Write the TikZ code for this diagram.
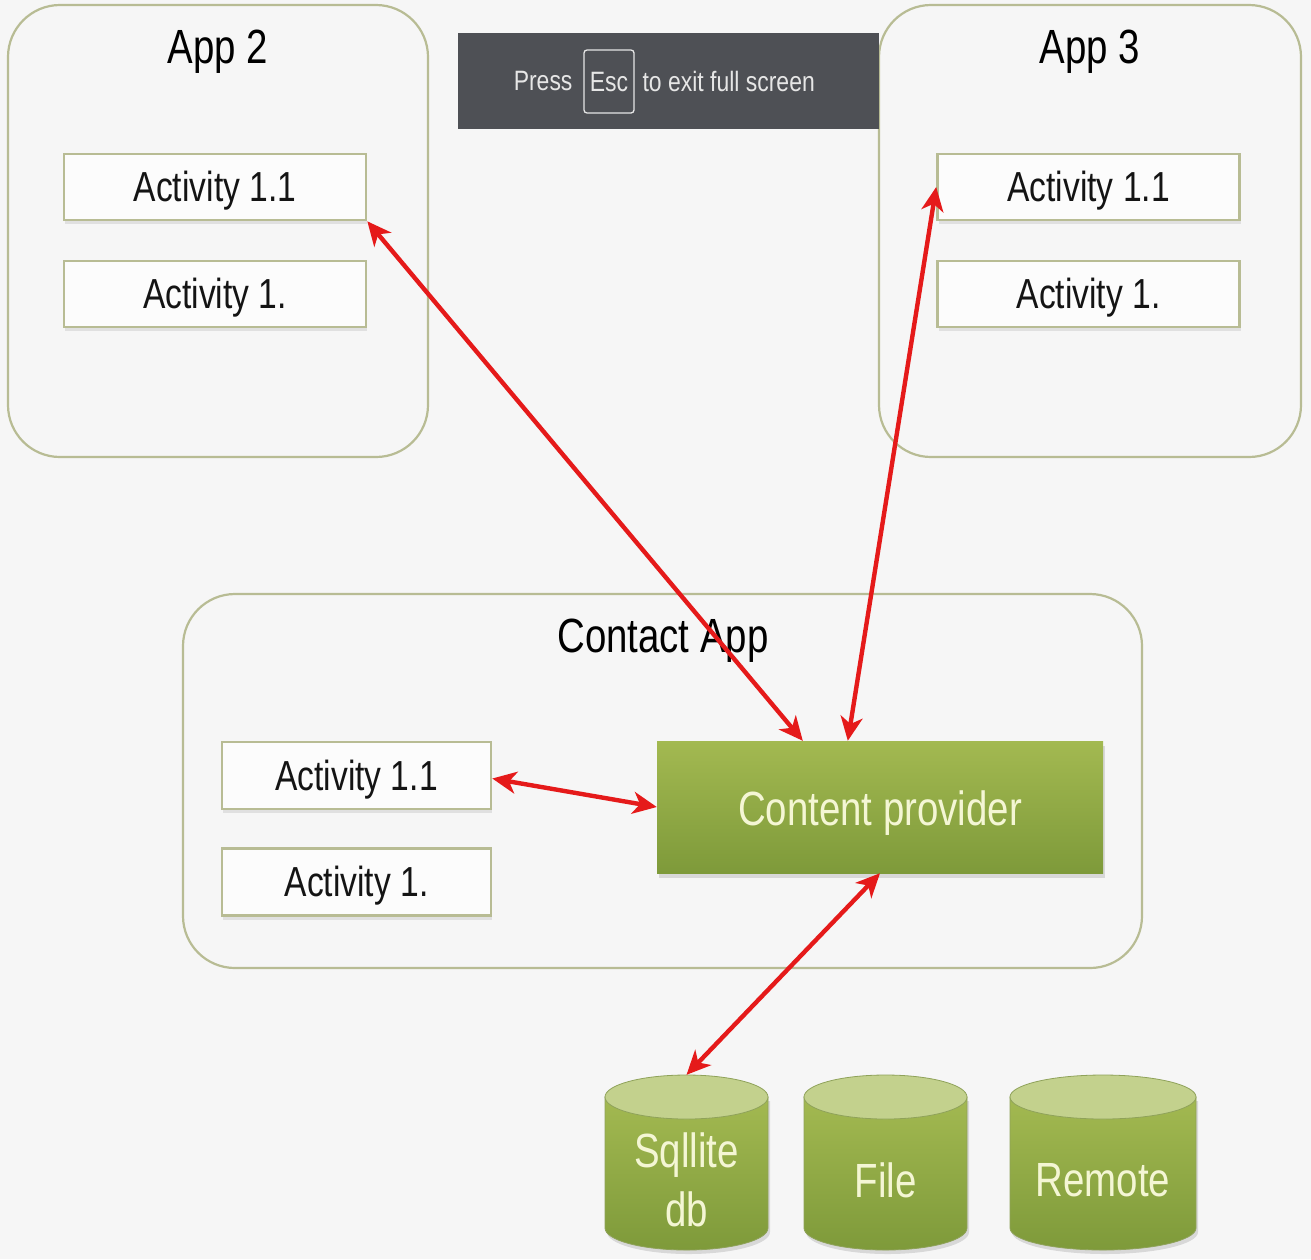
\documentclass[tikz,border=0pt]{standalone}
\usepackage{fontspec}
\setmainfont{Liberation Sans}[FakeStretch=0.8]
\newfontfamily\bannerfont{Liberation Sans}[FakeStretch=0.82]
\usetikzlibrary{arrows.meta,shadows,calc}

\definecolor{bgcol}{HTML}{F6F6F6}
\definecolor{framecol}{HTML}{B8BC94}
\definecolor{bannercol}{HTML}{4E5055}
\definecolor{bannertext}{HTML}{E6E6E6}
\definecolor{greentop}{HTML}{A3B951}
\definecolor{greenbot}{HTML}{7E9A3A}
\definecolor{greencap}{HTML}{C3D18D}
\definecolor{greenedge}{HTML}{8FA25A}
\definecolor{paletext}{HTML}{F4F6D4}
\definecolor{linkred}{HTML}{E51A1A}

\tikzset{
  appframe/.style={draw=framecol, line width=2.2pt, rounded corners=52pt},
  apptitle/.style={font=\fontsize{48}{52}\selectfont, text=black},
  actbox/.style={draw=framecol, line width=2.6pt, fill=white!70!bgcol,
    minimum width=302pt, minimum height=66pt, inner sep=0pt,
    drop shadow={shadow xshift=1pt, shadow yshift=-4pt, opacity=0.18}},
  acttext/.style={font=\fontsize{42}{46}\selectfont, text=black!92},
  provider/.style={top color=greentop, bottom color=greenbot, draw=none,
    minimum width=446pt, minimum height=132pt, inner sep=0pt,
    drop shadow={shadow xshift=2pt, shadow yshift=-5pt, opacity=0.25}},
  providertext/.style={text=paletext, font=\fontsize{48}{52}\selectfont},
  dbtext/.style={text=paletext, font=\fontsize{48}{59}\selectfont, align=center},
  dbbody/.style={top color=greentop, bottom color=greenbot, draw=greenedge, line width=0.8pt},
  dbcap/.style={fill=greencap, draw=greenedge, line width=0.8pt},
  link/.style={draw=linkred, line width=4.4pt,
    {Stealth[length=24pt, width=22pt, inset=7pt]}-{Stealth[length=24pt, width=22pt, inset=7pt]}},
}

\begin{document}
\begin{tikzpicture}[x=1pt, y=1pt]
  % canvas
  \fill[bgcol] (0,0) rectangle (1311,-1259);
  \useasboundingbox (0,0) rectangle (1311,-1259);

  % ---- App 2 ----
  \draw[appframe] (8,-5) rectangle (428,-457);
  \node[apptitle] (app2) at (218,-52) {App 2};
  \node[actbox] (a2one) at (215,-187) {};
  \node[actbox] (a2two) at (215,-294) {};
  \node[acttext] (a2onet) at (215,-191) {Activity 1.1};
  \node[acttext] (a2twot) at (215,-298) {Activity 1.};

  % ---- App 3 ----
  \draw[appframe] (879,-5) rectangle (1301,-457);
  \node[apptitle] (app3) at (1090,-52) {App 3};
  \node[actbox] (a3one) at (1088.5,-187) {};
  \node[actbox] (a3two) at (1088.5,-294) {};
  \node[acttext] (a3onet) at (1088.5,-191) {Activity 1.1};
  \node[acttext] (a3twot) at (1088.5,-298) {Activity 1.};

  % ---- full screen banner ----
  \node[fill=bannercol, minimum width=421pt, minimum height=96pt, inner sep=0pt]
    (banner) at (668.5,-81) {};
  \node[text=bannertext, font=\bannerfont\fontsize{28}{30}\selectfont, anchor=east]
    (press) at (576,-81) {Press};
  \node[draw=bannertext, line width=1.3pt, rounded corners=3pt,
        minimum width=50pt, minimum height=63pt, inner sep=0pt,
        text=bannertext, font=\bannerfont\fontsize{28}{30}\selectfont]
    (esc) at (609,-81.5) {Esc};
  \node[text=bannertext, font=\bannerfont\fontsize{28}{30}\selectfont, anchor=west]
    (exit) at (639,-81) {to exit full screen};

  % ---- Contact App ----
  \draw[appframe] (183,-594) rectangle (1142,-968);
  \node[apptitle] (capp) at (663,-641) {Contact App};
  \node[actbox, minimum width=269pt, minimum height=67pt] (cone) at (356.5,-775.5) {};
  \node[actbox, minimum width=269pt, minimum height=67pt] (ctwo) at (356.5,-882) {};
  \node[acttext] (conet) at (356.5,-780) {Activity 1.1};
  \node[acttext] (ctwot) at (356.5,-886) {Activity 1.};
  \node[provider] (cp) at (880,-807) {};
  \node[providertext] (cpt) at (880,-813) {Content provider};

  % ---- data stores ----
  % Sqllite db
  \fill[black, opacity=0.12] (607,-1101) -- (607,-1232) arc[start angle=180, end angle=360, x radius=81.5pt, y radius=22pt] -- (770,-1101) -- cycle;
  \path[dbbody] (605,-1097) -- (605,-1228) arc[start angle=180, end angle=360, x radius=81.5pt, y radius=22pt] -- (768,-1097) -- cycle;
  \path[dbcap] (686.5,-1097) ellipse[x radius=81.5pt, y radius=22pt];
  \node[minimum width=163pt, minimum height=175pt, inner sep=0pt] (sql) at (686.5,-1162.5) {};
  \node[dbtext] (sqlt) at (686.5,-1180) {Sqllite\\db};

  % File
  \fill[black, opacity=0.12] (806,-1101) -- (806,-1232) arc[start angle=180, end angle=360, x radius=81.5pt, y radius=22pt] -- (969,-1101) -- cycle;
  \path[dbbody] (804,-1097) -- (804,-1228) arc[start angle=180, end angle=360, x radius=81.5pt, y radius=22pt] -- (967,-1097) -- cycle;
  \path[dbcap] (885.5,-1097) ellipse[x radius=81.5pt, y radius=22pt];
  \node[minimum width=163pt, minimum height=175pt, inner sep=0pt] (file) at (885.5,-1162.5) {};
  \node[dbtext] (filet) at (885.5,-1180) {File};

  % Remote
  \fill[black, opacity=0.12] (1012,-1101) -- (1012,-1232) arc[start angle=180, end angle=360, x radius=93pt, y radius=22pt] -- (1198,-1101) -- cycle;
  \path[dbbody] (1010,-1097) -- (1010,-1228) arc[start angle=180, end angle=360, x radius=93pt, y radius=22pt] -- (1196,-1097) -- cycle;
  \path[dbcap] (1103,-1097) ellipse[x radius=93pt, y radius=22pt];
  \node[minimum width=186pt, minimum height=175pt, inner sep=0pt] (remote) at (1103,-1162.5) {};
  \node[dbtext] (remotet) at (1103,-1180) {Remote};

  % ---- links ----
  \draw[link] (a2one.south east) -- ([xshift=146pt]cp.north west);
  \draw[link] (a3one.west) -- ([xshift=191pt]cp.north west);
  \draw[link] ([yshift=-3pt]cone.east) -- (cp.west);
  \draw[link] (cp.south) -- (sql.north);
\end{tikzpicture}
\end{document}
